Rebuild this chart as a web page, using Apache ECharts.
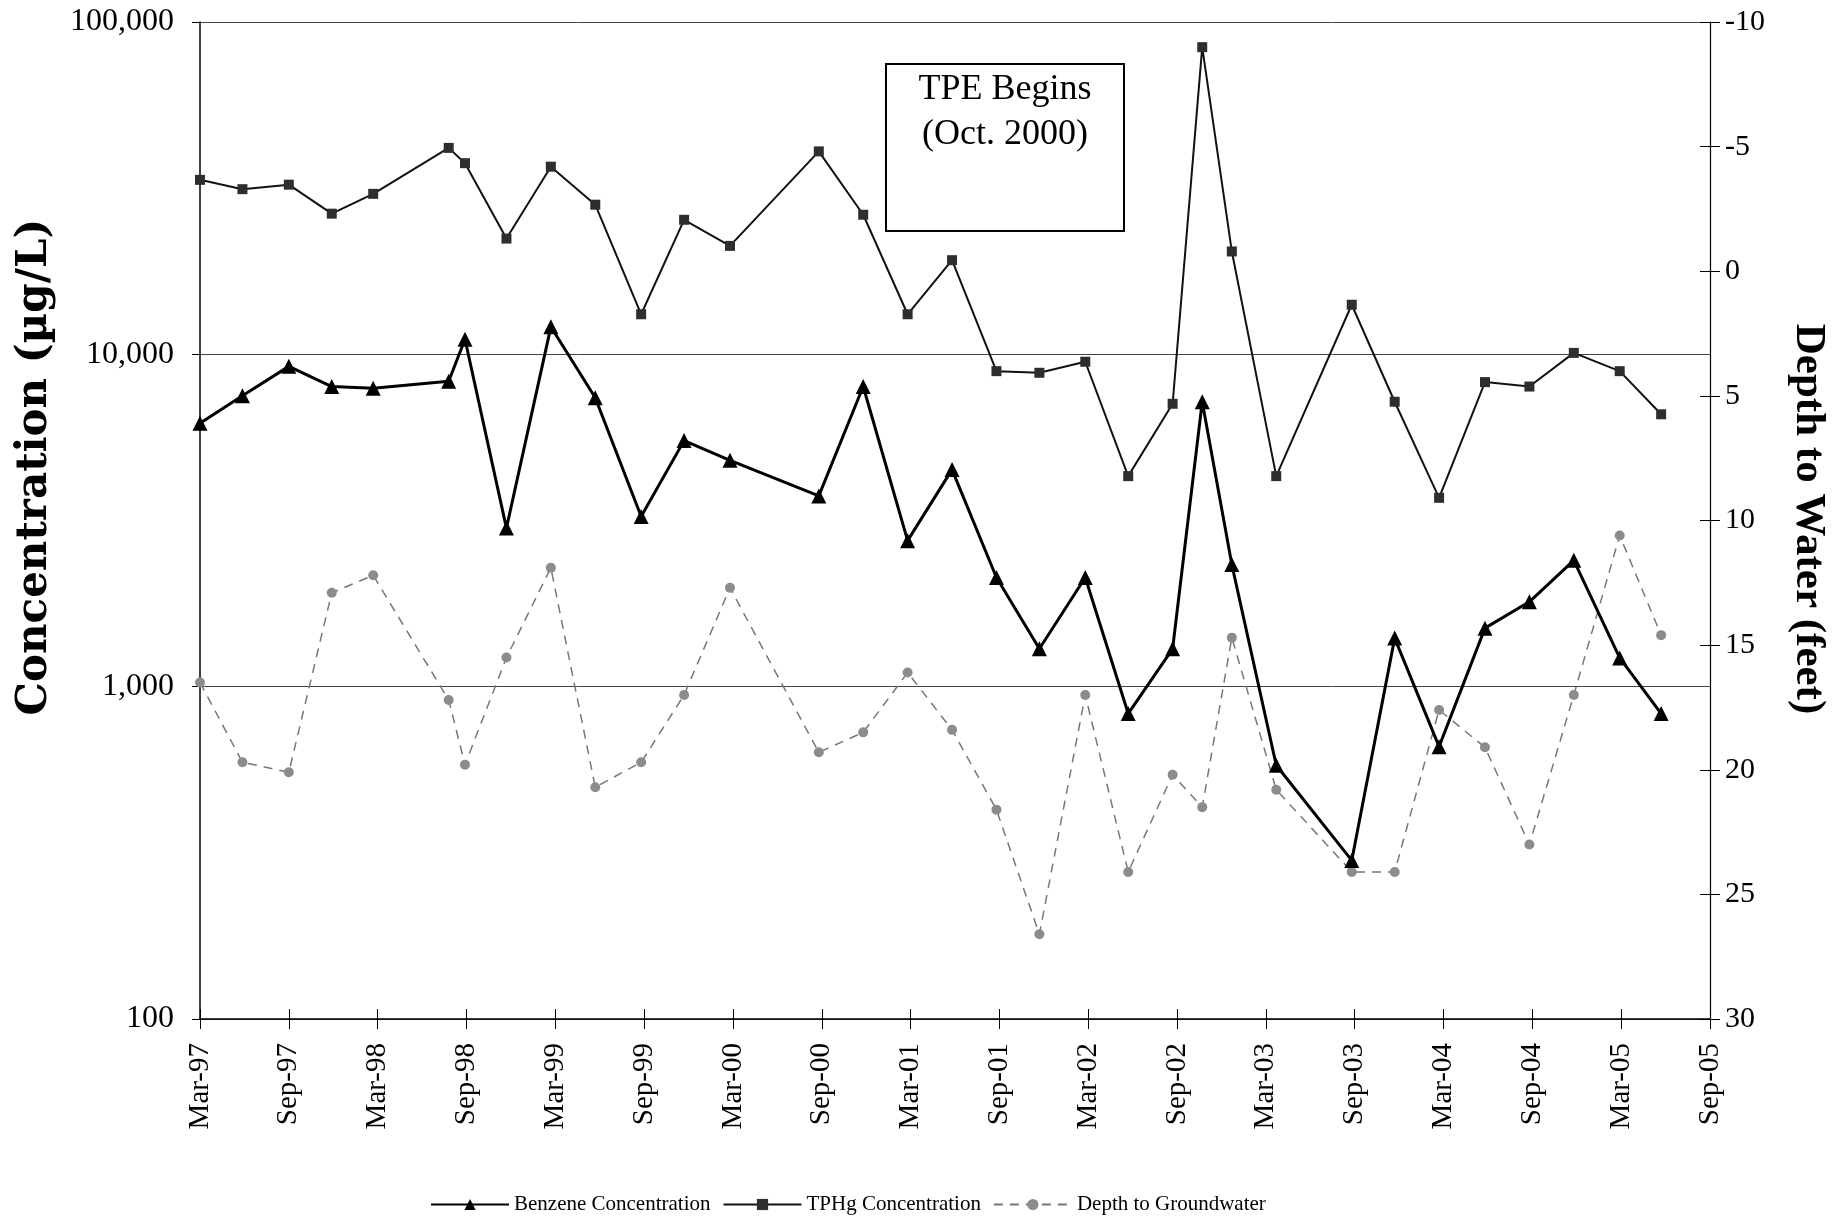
<!DOCTYPE html>
<html>
<head>
<meta charset="utf-8">
<script src="https://cdn.jsdelivr.net/npm/echarts@6/dist/echarts.min.js"></script>
<style>
  html, body { margin: 0; padding: 0; background: #fff; }
  #chart { width: 1843px; height: 1217px; }
</style>
</head>
<body>
<div id="chart"></div>
<script>
// ---- Data ----
const sampleDates = [
  '1997-03-01','1997-05-27','1997-09-01','1997-11-28','1998-02-22','1998-07-25',
  '1998-08-28','1998-11-22','1999-02-22','1999-05-22','1999-08-25','1999-11-22',
  '2000-02-25','2000-08-25','2000-11-25','2001-02-25','2001-05-25','2001-08-25',
  '2001-11-22','2002-02-25','2002-05-22','2002-08-22','2002-10-22','2002-12-22',
  '2003-03-22','2003-08-25','2003-11-22','2004-02-22','2004-05-25','2004-08-25',
  '2004-11-25','2005-02-28','2005-05-22'
];
const benzene = [
  6200, 7500, 9200, 8000, 7900, 8300, 11100, 3000, 12100, 7400, 3250, 5500,
  4800, 3750, 8000, 2750, 4500, 2130, 1300, 2130, 830, 1300, 7200, 2330,
  580, 300, 1400, 660, 1500, 1800, 2400, 1220, 830
];
const tphg = [
  33500, 31400, 32400, 26500, 30400, 41800, 37600, 22300, 36700, 28200, 13200, 25400,
  21200, 40800, 26300, 13200, 19200, 8900, 8800, 9500, 4300, 7100, 84000, 20400,
  4300, 14100, 7200, 3700, 8250, 8000, 10100, 8900, 6600
];
const depthToWater = [
  16.5, 19.7, 20.1, 12.9, 12.2, 17.2, 19.8, 15.5, 11.9, 20.7, 19.7, 17.0,
  12.7, 19.3, 18.5, 16.1, 18.4, 21.6, 26.6, 17.0, 24.1, 20.2, 21.5, 14.7,
  20.8, 24.1, 24.1, 17.6, 19.1, 23.0, 17.0, 10.6, 14.6
];
const xTickLabels = ['Mar-97','Sep-97','Mar-98','Sep-98','Mar-99','Sep-99','Mar-00','Sep-00',
  'Mar-01','Sep-01','Mar-02','Sep-02','Mar-03','Sep-03','Mar-04','Sep-04','Mar-05','Sep-05'];
const concTickLabels = ['100','1,000','10,000','100,000'];
const seriesNames = ['Benzene Concentration','TPHg Concentration','Depth to Groundwater'];
const annotationLines = ['TPE Begins','(Oct. 2000)'];
const leftTitle = 'Concentration (\u00b5g/L)';
const rightTitle = 'Depth to Water (feet)';

// months since Mar-1997
function monthIndex(s) {
  const [y, m, d] = s.split('-').map(Number);
  return (y - 1997) * 12 + (m - 3) + (d - 1) / 30;
}
const xs = sampleDates.map(monthIndex);
const pairs = arr => arr.map((v, i) => [xs[i], v]);

const serif = '"Liberation Serif", "Times New Roman", serif';
const gridBox = { left: 200, right: 133, top: 22, bottom: 198, containLabel: false };

const chart = echarts.init(document.getElementById('chart'), null, { renderer: 'canvas' });
chart.setOption({
  animation: false,
  backgroundColor: '#fff',
  grid: [Object.assign({}, gridBox), Object.assign({}, gridBox)],
  legend: {
    left: 425, top: 1189,
    itemWidth: 78, itemHeight: 14, itemGap: 12,
    textStyle: { fontFamily: serif, fontSize: 21, color: '#000' },
    data: seriesNames
  },
  xAxis: [
    {
      gridIndex: 0, type: 'value', min: 0, max: 102, interval: 6, position: 'bottom',
      splitLine: { show: false },
      axisLine: { show: true, onZero: false, lineStyle: { color: '#000', width: 1.5 } },
      axisTick: { show: true, inside: false, length: 10, lineStyle: { color: '#000', width: 1 } },
      axisLabel: {
        rotate: 90, margin: 24, color: '#000', fontFamily: serif, fontSize: 29,
        formatter: v => xTickLabels[Math.round(v / 6)] || ''
      }
    },
    {
      gridIndex: 1, type: 'value', min: 0, max: 102, interval: 6, position: 'bottom',
      splitLine: { show: false },
      axisLine: { show: false, onZero: false },
      axisTick: { show: true, inside: true, length: 10, lineStyle: { color: '#000', width: 1 } },
      axisLabel: { show: false }
    }
  ],
  yAxis: [
    {
      gridIndex: 0, type: 'log', logBase: 10, min: 100, max: 100000, position: 'left',
      axisLine: { show: true, lineStyle: { color: '#000', width: 1.5 } },
      axisTick: { show: true, inside: false, length: 8, lineStyle: { color: '#000' } },
      minorTick: { show: false },
      splitLine: { show: true, lineStyle: { color: '#444', width: 1 } },
      axisLabel: {
        margin: 26, color: '#000', fontFamily: serif, fontSize: 32,
        formatter: v => concTickLabels[Math.round(Math.log10(v)) - 2] || ''
      }
    },
    {
      gridIndex: 0, type: 'value', min: -10, max: 30, interval: 5, inverse: true, position: 'right',
      axisLine: { show: true, onZero: false, lineStyle: { color: '#000', width: 1.2 } },
      axisTick: { show: true, inside: false, length: 10, lineStyle: { color: '#000' } },
      splitLine: { show: false },
      axisLabel: { margin: 15, color: '#000', fontFamily: serif, fontSize: 30 }
    },
    {
      gridIndex: 1, type: 'value', min: -10, max: 30, interval: 5, inverse: true, position: 'right',
      axisLine: { show: false, onZero: false },
      axisTick: { show: true, inside: true, length: 10, lineStyle: { color: '#000' } },
      splitLine: { show: false },
      axisLabel: { show: false }
    }
  ],
  series: [
    {
      name: seriesNames[0], type: 'line', xAxisIndex: 0, yAxisIndex: 0,
      data: pairs(benzene),
      symbol: 'triangle', symbolSize: 15, z: 4,
      lineStyle: { color: '#000', width: 3 },
      itemStyle: { color: '#000' }
    },
    {
      name: seriesNames[1], type: 'line', xAxisIndex: 0, yAxisIndex: 0,
      data: pairs(tphg),
      symbol: 'rect', symbolSize: 10, z: 3,
      lineStyle: { color: '#111', width: 2 },
      itemStyle: { color: '#2e2e2e' }
    },
    {
      name: seriesNames[2], type: 'line', xAxisIndex: 0, yAxisIndex: 1,
      data: pairs(depthToWater),
      symbol: 'circle', symbolSize: 10, z: 2,
      lineStyle: { color: '#777', width: 1.5, type: [9, 7] },
      itemStyle: { color: '#8c8c8c' }
    }
  ],
  graphic: [
    {
      type: 'rect', z: 10,
      shape: { x: 886, y: 64, width: 238, height: 167 },
      style: { fill: '#fff', stroke: '#000', lineWidth: 2 }
    },
    {
      type: 'text', z: 11, x: 1005, y: 90,
      style: { text: annotationLines[0], fill: '#000', font: '36px ' + serif, align: 'center', verticalAlign: 'middle' }
    },
    {
      type: 'text', z: 11, x: 1005, y: 135,
      style: { text: annotationLines[1], fill: '#000', font: '36px ' + serif, align: 'center', verticalAlign: 'middle' }
    },
    {
      type: 'text', z: 11, x: 35, y: 467, rotation: Math.PI / 2,
      style: { text: leftTitle, fill: '#000', font: 'bold 42px "DejaVu Serif", serif', align: 'center', verticalAlign: 'middle' }
    },
    {
      type: 'text', z: 11, x: 1808, y: 519, rotation: -Math.PI / 2,
      style: { text: rightTitle, fill: '#000', font: 'bold 43px ' + serif, align: 'center', verticalAlign: 'middle' }
    }
  ]
});
</script>
</body>
</html>
